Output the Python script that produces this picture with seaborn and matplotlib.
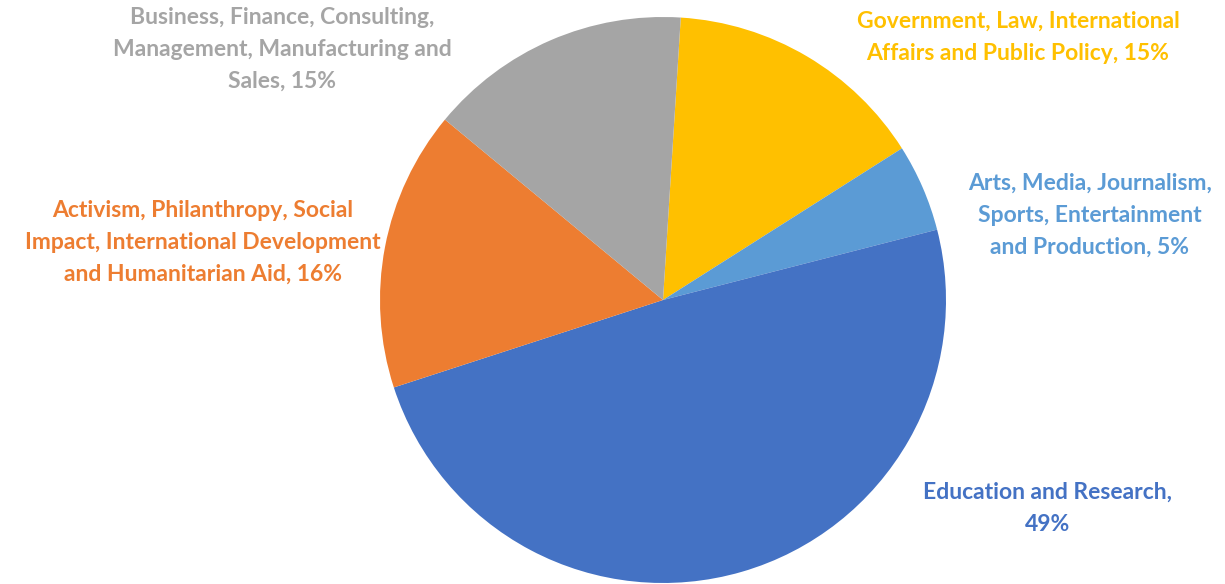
import numpy as np
import seaborn as sns
import matplotlib
matplotlib.use("Agg")
import matplotlib.pyplot as plt

# slices in clockwise order starting near 12 o'clock
categories = [
    "Government, Law, International\nAffairs and Public Policy",
    "Arts, Media, Journalism,\nSports, Entertainment\nand Production",
    "Education and Research,\n",
    "Activism, Philanthropy, Social\nImpact, International Development\nand Humanitarian Aid",
    "Business, Finance, Consulting,\nManagement, Manufacturing and\nSales",
]
shares = [15, 5, 49, 16, 15]
colors = ["#FFC000", "#5B9BD5", "#4472C4", "#ED7D31", "#A5A5A5"]

# label anchor positions in pixels (x centre, y of first line)
label_pos = [(1018, 22), (1090, 184), (1048, 493), (203, 211), (282, 18)]

sns.set_theme(style="white")
plt.rcParams["font.family"] = ["Lato", "DejaVu Sans"]

W, H = 1225, 584
cx, cy, R = 663, 300, 283

fig = plt.figure(figsize=(W / 100, H / 100), dpi=100)
ax = fig.add_axes([0, 0, 1, 1])

ax.pie(shares, colors=colors, startangle=86.4, counterclock=False,
       radius=1.0, center=(0, 0), wedgeprops=dict(linewidth=0))

ax.set_xlim(-cx / R, (W - cx) / R)
ax.set_ylim(-(H - cy) / R, cy / R)
ax.set_aspect("auto")
ax.axis("off")

def to_data(px, py):
    return (px - cx) / R, (cy - py) / R

for cat, val, col, (px, py) in zip(categories, shares, colors, label_pos):
    if cat.endswith("\n"):
        txt = cat + f"{val}%"
    else:
        txt = cat + f", {val}%"
    x, y = to_data(px, py - 11)
    ax.text(x, y, txt, color=col, fontsize=16.5, fontweight="bold",
            ha="center", va="top", linespacing=1.63)

fig.savefig("out.png", dpi=100)
